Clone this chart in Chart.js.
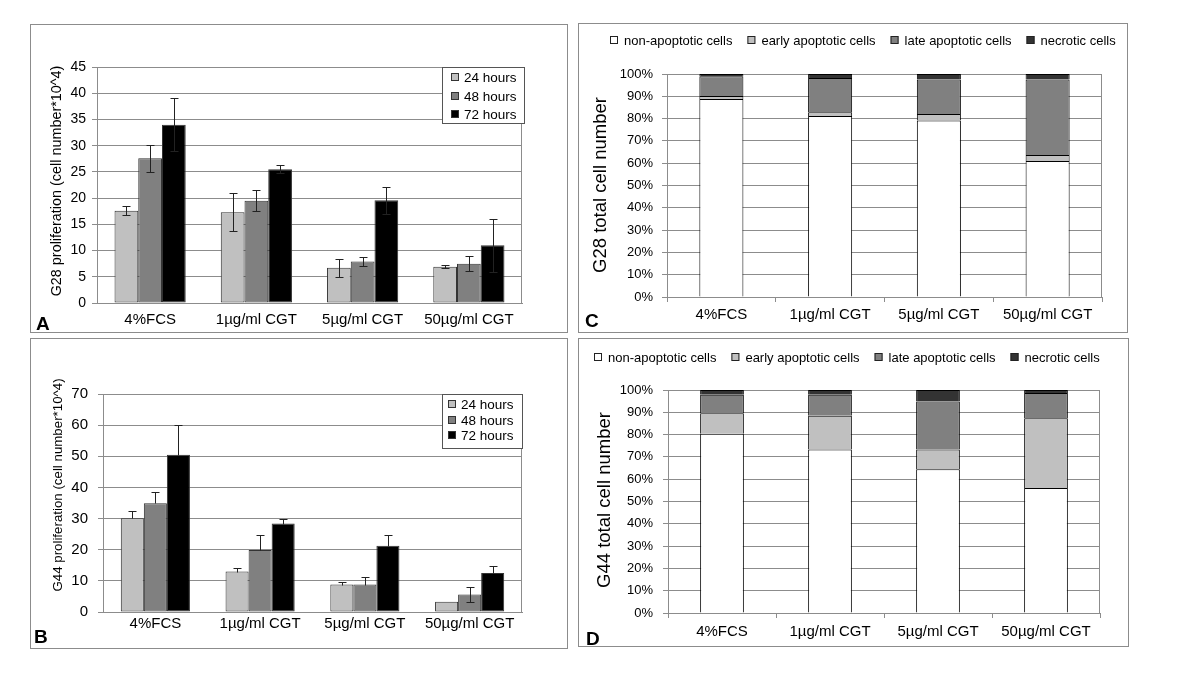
<!DOCTYPE html>
<html>
<head>
<meta charset="utf-8">
<title>G28 / G44 proliferation and apoptosis</title>
<script src="https://cdn.jsdelivr.net/npm/chart.js@4.4.1/dist/chart.umd.min.js"></script>
<style>
  body { margin: 0; background: #fff; width: 1200px; height: 686px; position: relative; overflow: hidden; }
  .panel { position: absolute; border: 1px solid #8c8c8c; box-sizing: border-box; background: #fff; }
  .panel canvas { display: block; }
</style>
</head>
<body>
<div class="panel" style="left:30px;top:24px;width:538px;height:309px"><canvas id="chartA" width="536" height="307"></canvas></div>
<div class="panel" style="left:30px;top:338px;width:538px;height:311px"><canvas id="chartB" width="536" height="309"></canvas></div>
<div class="panel" style="left:578px;top:23px;width:550px;height:310px"><canvas id="chartC" width="548" height="308"></canvas></div>
<div class="panel" style="left:578px;top:338px;width:551px;height:309px"><canvas id="chartD" width="549" height="307"></canvas></div>

<script>
'use strict'
//////////////////
// Data
//////////////////
const categories = ['4%FCS', '1\u00b5g/ml CGT', '5\u00b5g/ml CGT', '50\u00b5g/ml CGT'];
const timeLabels = ['24 hours', '48 hours', '72 hours'];
const cellLabels = ['non-apoptotic cells', 'early apoptotic cells', 'late apoptotic cells', 'necrotic cells'];

// A: G28 proliferation (cell number*10^4)
const g28Hours24 = [17.6, 17.3, 6.7, 6.9];
const g28Hours48 = [27.6, 19.5, 7.9, 7.5];
const g28Hours72 = [34.0, 25.5, 19.6, 11.0];
const g28Err24 = [0.85, 3.6, 1.7, 0.3];
const g28Err48 = [2.6, 2.0, 0.85, 1.4];
const g28Err72 = [5.0, 0.8, 2.6, 5.1];

// B: G44 proliferation (cell number*10^4), mostly upper whiskers only
const g44Hours24 = [30.1, 13.0, 8.8, 3.3];
const g44Hours48 = [34.9, 19.9, 8.8, 5.6];
const g44Hours72 = [50.5, 28.4, 21.3, 12.5];
const g44ErrUp24 = [2.3, 1.0, 0.8, 0];
const g44ErrUp48 = [3.6, 4.7, 2.3, 2.4];
const g44ErrUp72 = [9.4, 1.6, 3.3, 2.3];
const g44ErrDown24 = [0, 0, 0, 0];
const g44ErrDown48 = [0, 0, 0, 2.4];
const g44ErrDown72 = [0, 0, 0, 0];

// C: G28 total cell number (%)
const g28NonApoptotic = [88.8, 81.2, 79.1, 61.0];
const g28Early = [1.3, 1.6, 3.0, 2.7];
const g28Late = [8.9, 15.4, 15.4, 33.8];
const g28Necrotic = [1.0, 1.8, 2.5, 2.5];

// D: G44 total cell number (%)
const g44NonApoptotic = [80.4, 73.3, 64.5, 56.1];
const g44Early = [9.2, 15.2, 8.8, 31.2];
const g44Late = [8.3, 9.4, 21.5, 11.4];
const g44Necrotic = [2.1, 2.1, 5.2, 1.3];

// axis ticks
const g28TickMax = 45;
const g28TickStep = 5;
const g44TickMax = 70;
const g44TickStep = 10;
const percentTickMax = 100;
const percentTickStep = 10;

//////////////////
// Styles
//////////////////
const fontFamily = '"Liberation Sans", Arial, sans-serif';
const gridGray = '#8c8c8c';
const timeColors = ['#c0c0c0', '#808080', '#000000'];
const cellColors = ['#ffffff', '#c0c0c0', '#808080', '#333333'];

Chart.defaults.font.family = fontFamily;
Chart.defaults.color = '#000';

//////////////////
// Plugins
//////////////////
// error whiskers, positioned through the y scale
const errorBars = {
  id: 'errorBars',
  afterDatasetsDraw(chart) {
    const ctx = chart.ctx;
    const yScale = chart.scales.y;
    ctx.save();
    ctx.strokeStyle = '#222';
    ctx.lineWidth = 1;
    chart.data.datasets.forEach((ds, i) => {
      const meta = chart.getDatasetMeta(i);
      meta.data.forEach((bar, j) => {
        const up = ds.errUp[j], down = ds.errDown[j];
        if (!up && !down) return;
        const x = Math.round(bar.x) + 0.5;
        const yTop = Math.round(yScale.getPixelForValue(ds.data[j] + up)) + 0.5;
        const yBot = Math.round(yScale.getPixelForValue(ds.data[j] - down)) + 0.5;
        ctx.beginPath();
        ctx.moveTo(x, yTop); ctx.lineTo(x, yBot);
        ctx.moveTo(x - 4, yTop); ctx.lineTo(x + 4, yTop);
        if (down) { ctx.moveTo(x - 4, yBot); ctx.lineTo(x + 4, yBot); }
        ctx.stroke();
      });
    });
    ctx.restore();
  }
};

// side title, panel letter and right frame line
const panelDecor = {
  id: 'panelDecor',
  afterDraw(chart, args, opts) {
    const ctx = chart.ctx;
    const area = chart.chartArea;
    ctx.save();
    ctx.strokeStyle = gridGray;
    ctx.lineWidth = 1;
    ctx.beginPath();
    ctx.moveTo(Math.round(area.right) - 0.5, area.top);
    ctx.lineTo(Math.round(area.right) - 0.5, area.bottom);
    ctx.stroke();

    ctx.fillStyle = '#000';
    ctx.translate(opts.titleX, opts.titleY);
    ctx.rotate(-Math.PI / 2);
    ctx.font = opts.titleSize + 'px ' + fontFamily;
    ctx.textAlign = 'center';
    ctx.textBaseline = 'middle';
    ctx.fillText(opts.title, 0, 0);
    ctx.setTransform(1, 0, 0, 1, 0, 0);

    ctx.font = 'bold 19px ' + fontFamily;
    ctx.textAlign = 'left';
    ctx.textBaseline = 'alphabetic';
    ctx.fillText(opts.letter, opts.letterX, opts.letterY);
    ctx.restore();
  }
};

// legend: boxed column (A, B) or a single row (C, D)
const customLegend = {
  id: 'customLegend',
  afterDraw(chart, args, opts) {
    const ctx = chart.ctx;
    ctx.save();
    ctx.font = opts.fontSize + 'px ' + fontFamily;
    ctx.textBaseline = 'middle';
    ctx.lineWidth = 1;
    const m = opts.marker;
    if (opts.mode === 'box') {
      ctx.fillStyle = '#fff';
      ctx.fillRect(opts.x, opts.y, opts.w, opts.h);
      ctx.strokeStyle = '#555';
      ctx.strokeRect(opts.x + 0.5, opts.y + 0.5, opts.w, opts.h);
      chart.data.datasets.forEach((ds, i) => {
        const cy = opts.rows[i];
        ctx.fillStyle = ds.backgroundColor;
        ctx.fillRect(opts.markerX, cy - m / 2, m, m);
        ctx.strokeStyle = '#333';
        ctx.strokeRect(opts.markerX + 0.5, Math.round(cy - m / 2) + 0.5, m - 1, m - 1);
        ctx.fillStyle = '#000';
        ctx.fillText(ds.label, opts.textX, cy + 1);
      });
    } else {
      let x = opts.x;
      const cy = opts.y;
      chart.data.datasets.forEach(ds => {
        ctx.fillStyle = ds.backgroundColor;
        ctx.fillRect(x, Math.round(cy - m / 2), m, m);
        ctx.strokeStyle = '#222';
        ctx.strokeRect(x + 0.5, Math.round(cy - m / 2) + 0.5, m - 1, m - 1);
        ctx.fillStyle = '#000';
        ctx.fillText(ds.label, x + m + 6, cy + 1);
        x += m + 6 + ctx.measureText(ds.label).width + opts.gap;
      });
    }
    ctx.restore();
  }
};

//////////////////
// Chart builders
//////////////////
function buildProlifChart(canvasId, values, errUp, errDown, setup) {
  const datasets = values.map((v, i) => ({
    label: timeLabels[i],
    data: v,
    errUp: errUp[i],
    errDown: errDown[i],
    backgroundColor: timeColors[i],
    borderColor: '#333',
    borderWidth: 1,
    borderSkipped: false,
    categoryPercentage: setup.groupWidth,
    barPercentage: 1.0
  }));

  return new Chart(document.getElementById(canvasId), {
    type: 'bar',
    data: { labels: categories, datasets: datasets },
    plugins: [errorBars, panelDecor, customLegend],
    options: {
      responsive: false,
      animation: false,
      layout: { padding: { left: 0, top: setup.top, right: setup.right, bottom: 0 } },
      plugins: {
        legend: { display: false },
        tooltip: { enabled: false },
        panelDecor: setup.decor,
        customLegend: setup.legend
      },
      scales: {
        x: {
          grid: { display: false, drawTicks: false },
          border: { display: true, color: gridGray },
          ticks: { font: { size: 15 }, padding: setup.xPad, maxRotation: 0, autoSkip: false },
          afterFit: s => { s.height = setup.xHeight; }
        },
        y: {
          min: 0,
          max: setup.max,
          ticks: { stepSize: setup.step, font: { size: setup.tickSize }, padding: setup.yPad },
          grid: { color: gridGray, tickLength: 5 },
          border: { display: true, color: gridGray },
          afterFit: s => { s.width = setup.yWidth; }
        }
      }
    }
  });
}

function buildStackChart(canvasId, values, setup) {
  const datasets = values.map((v, i) => ({
    label: cellLabels[i],
    data: v,
    backgroundColor: cellColors[i],
    borderColor: '#000',
    borderWidth: 1,
    categoryPercentage: 1.0,
    barPercentage: 0.405
  }));

  return new Chart(document.getElementById(canvasId), {
    type: 'bar',
    data: { labels: categories, datasets: datasets },
    plugins: [panelDecor, customLegend],
    options: {
      responsive: false,
      animation: false,
      layout: { padding: { left: 0, top: setup.top, right: setup.right, bottom: 0 } },
      plugins: {
        legend: { display: false },
        tooltip: { enabled: false },
        panelDecor: setup.decor,
        customLegend: setup.legend
      },
      scales: {
        x: {
          stacked: true,
          grid: { display: true, drawOnChartArea: false, tickLength: 5, color: gridGray, offset: true },
          border: { display: true, color: gridGray },
          ticks: { font: { size: 15 }, padding: setup.xPad, maxRotation: 0, autoSkip: false },
          afterFit: s => { s.height = setup.xHeight; }
        },
        y: {
          stacked: true,
          min: 0,
          max: percentTickMax,
          ticks: { stepSize: percentTickStep, font: { size: 13 }, padding: setup.yPad, callback: v => v + '%' },
          grid: { color: gridGray, tickLength: 5 },
          border: { display: true, color: gridGray },
          afterFit: s => { s.width = setup.yWidth; }
        }
      }
    }
  });
}

//////////////////
// Start
//////////////////
buildProlifChart('chartA',
  [g28Hours24, g28Hours48, g28Hours72],
  [g28Err24, g28Err48, g28Err72],
  [g28Err24, g28Err48, g28Err72],
  {
    max: g28TickMax, step: g28TickStep, tickSize: 14,
    top: 42, right: 45, yWidth: 66, xHeight: 29, xPad: 8, yPad: 6, groupWidth: 0.67,
    decor: { title: 'G28 proliferation (cell number*10^4)', titleSize: 14.4, titleX: 26, titleY: 156, letter: 'A', letterX: 5, letterY: 305 },
    legend: { mode: 'box', x: 411, y: 42, w: 82, h: 56, rows: [52, 71, 89], markerX: 420, textX: 433, marker: 8, fontSize: 13.5 }
  });

buildProlifChart('chartB',
  [g44Hours24, g44Hours48, g44Hours72],
  [g44ErrUp24, g44ErrUp48, g44ErrUp72],
  [g44ErrDown24, g44ErrDown48, g44ErrDown72],
  {
    max: g44TickMax, step: g44TickStep, tickSize: 15,
    top: 55, right: 45, yWidth: 72, xHeight: 36, xPad: 3, yPad: 10, groupWidth: 0.66,
    decor: { title: 'G44 proliferation (cell number*10^4)', titleSize: 13.3, titleX: 27, titleY: 146, letter: 'B', letterX: 3, letterY: 304 },
    legend: { mode: 'box', x: 411, y: 55, w: 80, h: 54, rows: [65, 81, 96], markerX: 417, textX: 430, marker: 8, fontSize: 13.5 }
  });

buildStackChart('chartC',
  [g28NonApoptotic, g28Early, g28Late, g28Necrotic],
  {
    top: 50, right: 25, yWidth: 88, xHeight: 35, xPad: 4, yPad: 9,
    decor: { title: 'G28 total cell number', titleSize: 18.5, titleX: 22, titleY: 161, letter: 'C', letterX: 6, letterY: 303 },
    legend: { mode: 'row', x: 31, y: 16, marker: 8, gap: 15, fontSize: 13 }
  });

buildStackChart('chartD',
  [g44NonApoptotic, g44Early, g44Late, g44Necrotic],
  {
    top: 51, right: 28, yWidth: 89, xHeight: 33, xPad: 5, yPad: 10,
    decor: { title: 'G44 total cell number', titleSize: 18.5, titleX: 26, titleY: 161, letter: 'D', letterX: 7, letterY: 306 },
    legend: { mode: 'row', x: 15, y: 18, marker: 8, gap: 15, fontSize: 13 }
  });
</script>
</body>
</html>
